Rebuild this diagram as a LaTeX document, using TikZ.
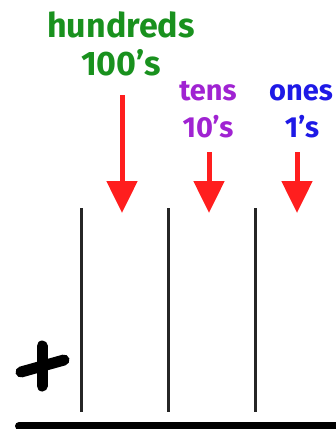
\documentclass[tikz,border=0pt]{standalone}
\usepackage{fontspec}
\setmainfont{Fira Sans}
\usetikzlibrary{arrows.meta}
\definecolor{hgreen}{RGB}{25,145,30}
\definecolor{tpurple}{RGB}{160,35,210}
\definecolor{oblue}{RGB}{30,25,230}
\definecolor{ared}{RGB}{255,30,30}
\tikzset{
  biglabel/.style={anchor=base, inner sep=0pt, font=\fontsize{34}{34}\selectfont\bfseries},
  smalllabel/.style={anchor=base, inner sep=0pt, font=\fontsize{29}{29}\selectfont\bfseries},
  redarrow/.style={draw=ared, line width=5pt, -{Triangle[width=30pt,length=32pt]}, fill=ared},
  column/.style={draw=black!85, line width=3pt},
}
\begin{document}
\begin{tikzpicture}[x=1pt,y=-1pt]
\useasboundingbox (0,0) rectangle (336,429);
% labels
\node[biglabel, text=hgreen] (hund) at (121,37) {hundreds};
\node[biglabel, text=hgreen] (hundn) at (121,75) {100’s};
\node[smalllabel, text=tpurple] (tens) at (208,100) {tens};
\node[smalllabel, text=tpurple] (tensn) at (208,137) {10’s};
\node[smalllabel, text=oblue] (ones) at (301,100) {ones};
\node[smalllabel, text=oblue] (onesn) at (302,137) {1’s};
% arrow coordinates
\coordinate (ha) at (122,95);  \coordinate (hb) at (122,213);
\coordinate (ta) at (209,152); \coordinate (tb) at (209,213);
\coordinate (oa) at (297,152); \coordinate (ob) at (297,213);
\draw[redarrow] (ha) -- (hb);
\draw[redarrow] (ta) -- (tb);
\draw[redarrow] (oa) -- (ob);
% columns
\coordinate (c1t) at (81,208);  \coordinate (c1b) at (81,412);
\coordinate (c2t) at (168,208); \coordinate (c2b) at (168,412);
\coordinate (c3t) at (255,208); \coordinate (c3b) at (255,412);
\draw[column] (c1t) -- (c1b);
\draw[column] (c2t) -- (c2b);
\draw[column] (c3t) -- (c3b);
% plus sign
\coordinate (p1) at (21,372); \coordinate (p2) at (64,360);
\coordinate (p3) at (42,346); \coordinate (p4) at (42,386);
\draw[line width=11pt, line cap=round] (p1) -- (p2);
\draw[line width=11pt, line cap=round] (p3) -- (p4);
% bottom rule
\coordinate (r1) at (19,426); \coordinate (r2) at (345,426);
\draw[line width=8pt, line cap=round] (r1) -- (r2);
\end{tikzpicture}
\end{document}
